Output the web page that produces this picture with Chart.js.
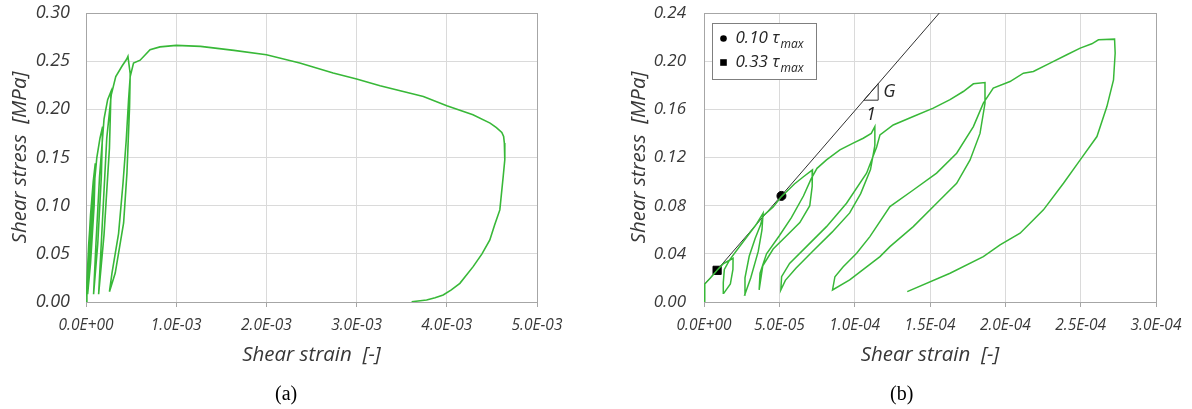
<!DOCTYPE html>
<html>
<head>
<meta charset="utf-8">
<script src="https://cdn.jsdelivr.net/npm/chart.js@4.4.1/dist/chart.umd.min.js"></script>
<style>
  body { margin: 0; background: #fff; }
  #wrap { position: relative; width: 1192px; height: 409px; background: #fff; }
  #wrap canvas { position: absolute; top: 0; }
  .cap { position: absolute; top: 382px; font-family: 'Liberation Serif', serif; font-size: 20px; color: #000; }
</style>
</head>
<body>
<div id="wrap">
  <canvas id="chartA" width="596" height="409" style="left:0"></canvas>
  <canvas id="chartB" width="596" height="409" style="left:596px"></canvas>
  <div class="cap" style="left:275px">(a)</div>
  <div class="cap" style="left:890px">(b)</div>
</div>
<script>
// (a) monotonic-ish test, shear strain [-] vs shear stress [MPa]
const strainA = [0, 0.00001, 0.00003, 0.000066, 0.00005, 0.00002, 0.000005,
  0.00002, 0.00005, 0.00008, 0.000103, 0.00009, 0.00005, 0.000018,
  0.00004, 0.00008, 0.00012, 0.000155, 0.000184, 0.00017, 0.00013, 0.000084,
  0.00011, 0.00015, 0.0002, 0.00024, 0.000277, 0.00026, 0.0002, 0.00014,
  0.00018, 0.00023, 0.00028, 0.00033, 0.0004, 0.00045, 0.000465,
  0.00049, 0.000483, 0.000454, 0.000417, 0.000324, 0.00026,
  0.000288, 0.000361, 0.00041, 0.000446, 0.000472, 0.00049, 0.000527,
  0.0006, 0.00066, 0.00071, 0.00082, 0.001, 0.00127, 0.00164, 0.002, 0.00237, 0.00274,
  0.003, 0.00326, 0.00374, 0.004, 0.00429, 0.00448, 0.00455, 0.00461, 0.00463,
  0.004638, 0.004643, 0.004625, 0.004588, 0.00453, 0.004477, 0.00439, 0.004292,
  0.004145, 0.00405, 0.00396, 0.00387, 0.003776, 0.00361];
const stressA = [0, 0.02, 0.06, 0.109, 0.07, 0.02, 0.006,
  0.04, 0.09, 0.125, 0.144, 0.1, 0.04, 0.008,
  0.05, 0.11, 0.15, 0.17, 0.182, 0.13, 0.06, 0.008,
  0.06, 0.13, 0.19, 0.21, 0.2186, 0.16, 0.07, 0.008,
  0.08, 0.17, 0.215, 0.234, 0.245, 0.252, 0.255,
  0.237, 0.203, 0.134, 0.082, 0.03, 0.0107,
  0.03, 0.071, 0.123, 0.168, 0.21, 0.234, 0.248,
  0.251, 0.257, 0.262, 0.2648, 0.2664, 0.2654, 0.2612, 0.2567, 0.248, 0.2377,
  0.2315, 0.2245, 0.2133, 0.2037, 0.1943, 0.1857, 0.181, 0.176, 0.1718,
  0.165, 0.1476, 0.13, 0.0956, 0.08, 0.0644, 0.05, 0.0367,
  0.0194, 0.0125, 0.0073, 0.0045, 0.0021, 0.0003];

// (b) cyclic loops
const strainB = [0, 0.0000005, 0.000005, 0.0000087, 0.000013, 0.0000193,
  0.0000192, 0.0000175, 0.0000131,
  0.0000128, 0.0000135, 0.000017, 0.000023, 0.000029, 0.000035, 0.0000392,
  0.0000385, 0.000036, 0.000031, 0.000027,
  0.0000272, 0.00003, 0.000034, 0.0000375, 0.0000392, 0.0000459, 0.0000514, 0.00006, 0.000066, 0.000072,
  0.0000718, 0.0000702, 0.0000636, 0.0000548, 0.0000459, 0.000039, 0.0000366,
  0.0000372, 0.0000415, 0.00005, 0.000058, 0.000066, 0.000071, 0.000075, 0.0000813, 0.0000902, 0.000099, 0.0001057, 0.000111, 0.0001134,
  0.0001134, 0.0001105, 0.000104, 0.0000967, 0.000085, 0.000072, 0.000061, 0.000054, 0.000051,
  0.0000515, 0.0000568, 0.000068, 0.0000813, 0.0000946, 0.0001079, 0.0001146, 0.0001168, 0.0001256, 0.0001389, 0.0001522, 0.0001633, 0.0001721, 0.0001788, 0.0001865,
  0.0001865, 0.0001832, 0.0001766, 0.0001677, 0.0001544, 0.0001389, 0.0001234, 0.0001168, 0.0000967, 0.0000853,
  0.0000869, 0.0000924, 0.0001013, 0.0001101, 0.0001234, 0.0001389, 0.0001544, 0.0001677, 0.0001788, 0.0001854, 0.000192, 0.0002031, 0.000212, 0.0002186, 0.0002297, 0.0002408, 0.0002497, 0.0002574, 0.0002618, 0.0002725,
  0.0002729, 0.0002718, 0.0002674, 0.0002608, 0.0002497, 0.0002386, 0.0002253, 0.0002098, 0.0001965, 0.0001854, 0.0001633, 0.0001349];
const stressB = [0, 0.015, 0.021, 0.0263, 0.032, 0.0363,
  0.027, 0.015, 0.0072,
  0.016, 0.027, 0.035, 0.045, 0.055, 0.065, 0.0737,
  0.06, 0.042, 0.02, 0.0058,
  0.02, 0.038, 0.053, 0.064, 0.0715, 0.079, 0.0875, 0.098, 0.104, 0.1097,
  0.096, 0.08, 0.066, 0.055, 0.044, 0.03, 0.01,
  0.024, 0.04, 0.055, 0.07, 0.088, 0.102, 0.111, 0.118, 0.1263, 0.1319, 0.136, 0.14, 0.1457,
  0.13, 0.11, 0.09, 0.074, 0.058, 0.042, 0.028, 0.018, 0.01,
  0.021, 0.032, 0.046, 0.0626, 0.082, 0.107, 0.1288, 0.1388, 0.147, 0.154, 0.161, 0.168, 0.1748, 0.1812, 0.1823,
  0.165, 0.14, 0.118, 0.0986, 0.082, 0.0626, 0.046, 0.0377, 0.0183, 0.01,
  0.021, 0.0293, 0.0405, 0.0543, 0.0792, 0.093, 0.107, 0.1236, 0.1457, 0.1651, 0.1776, 0.1831, 0.19, 0.1914, 0.1984, 0.2053, 0.2108, 0.2144, 0.2177, 0.2183,
  0.2067, 0.1845, 0.1623, 0.1374, 0.118, 0.0986, 0.0765, 0.0571, 0.0474, 0.0377, 0.0239, 0.0086];

// shear modulus line + marked points (b)
const gLineStrain = [0, 0.0001562];
const gLineStress = [0.0141, 0.24];
const pt010 = [0.0000514, 0.0881];   // 0.10 tau_max
const pt033 = [0.0000087, 0.0263];   // 0.33 tau_max
const triStrain = [0.0001061, 0.0001156, 0.0001156, 0.0001061];
const triStress = [0.1676, 0.1676, 0.1813, 0.1676];

// tick values
const xTicksA = [0, 0.001, 0.002, 0.003, 0.004, 0.005];
const yTicksA = [0, 0.05, 0.10, 0.15, 0.20, 0.25, 0.30];
const xTicksB = [0, 0.00005, 0.0001, 0.00015, 0.0002, 0.00025, 0.0003];
const yTicksB = [0, 0.04, 0.08, 0.12, 0.16, 0.20, 0.24];

const txt = '#383838';
const green = '#38b838';
const pts = (xs, ys) => xs.map((x, i) => ({x: x, y: ys[i]}));

function sci(v) {
  if (Math.abs(v) < 1e-12) return '0.0E+00';
  const e = Math.floor(Math.log10(Math.abs(v)) + 1e-9);
  const m = v / Math.pow(10, e);
  return m.toFixed(1) + 'E' + (e < 0 ? '-' : '+') + String(Math.abs(e)).padStart(2, '0');
}

const frame = {
  id: 'frame',
  beforeDatasetsDraw(chart) {
    const {ctx, chartArea: a} = chart;
    ctx.save();
    ctx.strokeStyle = '#a6a6a6';
    ctx.lineWidth = 1;
    ctx.strokeRect(Math.round(a.left) + 0.5, Math.round(a.top) + 0.5, Math.round(a.width), Math.round(a.height));
    ctx.restore();
  }
};

function axes(o) {
  return {
    x: {
      type: 'linear', min: o.xTicks[0], max: o.xTicks[o.xTicks.length - 1],
      afterBuildTicks: s => { s.ticks = o.xTicks.map(v => ({value: v})); },
      afterFit: s => { s.height = o.xh; s.paddingLeft = 0; s.paddingRight = 0; },
      grid: { color: '#dadada', tickColor: '#a6a6a6', tickLength: 5 },
      border: { color: '#a6a6a6' },
      ticks: { color: txt, padding: 9, maxRotation: 0, autoSkip: false,
        font: { family: 'Open Sans', size: 15.5, style: 'italic' }, callback: v => sci(v) },
      title: { display: true, text: 'Shear strain  [-]', color: txt,
        font: { family: 'Open Sans', size: 20.5, style: 'italic' }, padding: { top: 0, bottom: 2 } }
    },
    y: {
      type: 'linear', min: o.yTicks[0], max: o.yTicks[o.yTicks.length - 1],
      afterBuildTicks: s => { s.ticks = o.yTicks.map(v => ({value: v})); },
      afterFit: s => { s.width = o.yw; s.paddingTop = 0; s.paddingBottom = 0; },
      grid: { color: '#dadada', drawTicks: false },
      border: { color: '#a6a6a6' },
      ticks: { color: txt, padding: o.yPad,
        font: { family: 'Open Sans', size: o.ySize, style: 'italic' }, callback: v => v.toFixed(2) },
      title: { display: true, text: 'Shear stress  [MPa]', color: txt,
        font: { family: 'Open Sans', size: 20.5, style: 'italic' }, padding: { top: o.titlePad, bottom: 0 } }
    }
  };
}

new Chart(document.getElementById('chartA'), {
  type: 'scatter',
  data: {
    datasets: [{
      data: pts(strainA, stressA), showLine: true, borderColor: green, borderWidth: 1.6,
      pointRadius: 0, tension: 0
    }]
  },
  options: {
    responsive: false, animation: false,
    layout: { padding: { left: 0, top: 13, right: 59, bottom: 40 } },
    plugins: { legend: { display: false }, tooltip: { enabled: false } },
    scales: axes({ xTicks: xTicksA, yTicks: yTicksA, xh: 67, yw: 86, yPad: 16, ySize: 18, titlePad: 8 })
  },
  plugins: [frame]
});

const tauLegend = {
  id: 'tauLegend',
  afterDraw(chart) {
    const {ctx, chartArea: a, scales} = chart;
    ctx.save();
    // legend box
    const bx = Math.round(a.left + 8) + 0.5, by = Math.round(a.top + 10) + 0.5;
    ctx.fillStyle = '#fff';
    ctx.fillRect(bx, by, 104, 56);
    ctx.strokeStyle = '#7f7f7f';
    ctx.lineWidth = 1;
    ctx.strokeRect(bx, by, 104, 56);
    const rows = [['0.10 τ', 'circle'], ['0.33 τ', 'rect']];
    rows.forEach((r, i) => {
      const y = by + 15 + i * 24, mx = bx + 11;
      ctx.fillStyle = '#000';
      if (r[1] === 'circle') { ctx.beginPath(); ctx.arc(mx, y, 3.3, 0, Math.PI * 2); ctx.fill(); }
      else ctx.fillRect(mx - 3.3, y - 3.3, 6.6, 6.6);
      ctx.fillStyle = '#262626';
      ctx.textBaseline = 'middle';
      ctx.textAlign = 'left';
      ctx.font = 'italic 17px "Open Sans"';
      ctx.fillText(r[0], bx + 23, y);
      const w = ctx.measureText(r[0]).width;
      ctx.font = 'italic 12px "Open Sans"';
      ctx.fillText('max', bx + 24 + w, y + 6);
    });
    // slope triangle labels
    const tx = scales.x.getPixelForValue(triStrain[1]);
    const ty0 = scales.y.getPixelForValue(triStress[0]);
    const ty1 = scales.y.getPixelForValue(triStress[2]);
    const bxm = scales.x.getPixelForValue((triStrain[0] + triStrain[1]) / 2);
    ctx.fillStyle = '#262626';
    ctx.font = 'italic 18px "Open Sans"';
    ctx.textAlign = 'left';
    ctx.textBaseline = 'middle';
    ctx.fillText('G', tx + 5, (ty0 + ty1) / 2);
    ctx.textAlign = 'center';
    ctx.fillText('1', bxm, ty0 + 15);
    ctx.restore();
  }
};

new Chart(document.getElementById('chartB'), {
  type: 'scatter',
  data: {
    datasets: [
      { data: pts(strainB, stressB), showLine: true, borderColor: green, borderWidth: 1.5,
        pointRadius: 0, tension: 0 },
      { data: pts(gLineStrain, gLineStress), showLine: true, borderColor: '#303030', borderWidth: 1,
        pointRadius: 0 },
      { data: pts(triStrain, triStress), showLine: true, borderColor: '#303030', borderWidth: 1,
        pointRadius: 0 },
      { data: [{x: pt010[0], y: pt010[1]}], pointStyle: 'circle', pointRadius: 4.5,
        backgroundColor: '#000', borderColor: '#000' },
      { data: [{x: pt033[0], y: pt033[1]}], pointStyle: 'rect', pointRadius: 5.8,
        backgroundColor: '#000', borderColor: '#000' }
    ]
  },
  options: {
    responsive: false, animation: false,
    layout: { padding: { left: 0, top: 13, right: 36, bottom: 40 } },
    plugins: { legend: { display: false }, tooltip: { enabled: false } },
    scales: axes({ xTicks: xTicksB, yTicks: yTicksB, xh: 67, yw: 108, yPad: 18, ySize: 17, titlePad: 31 })
  },
  plugins: [frame, tauLegend]
});
</script>
</body>
</html>
